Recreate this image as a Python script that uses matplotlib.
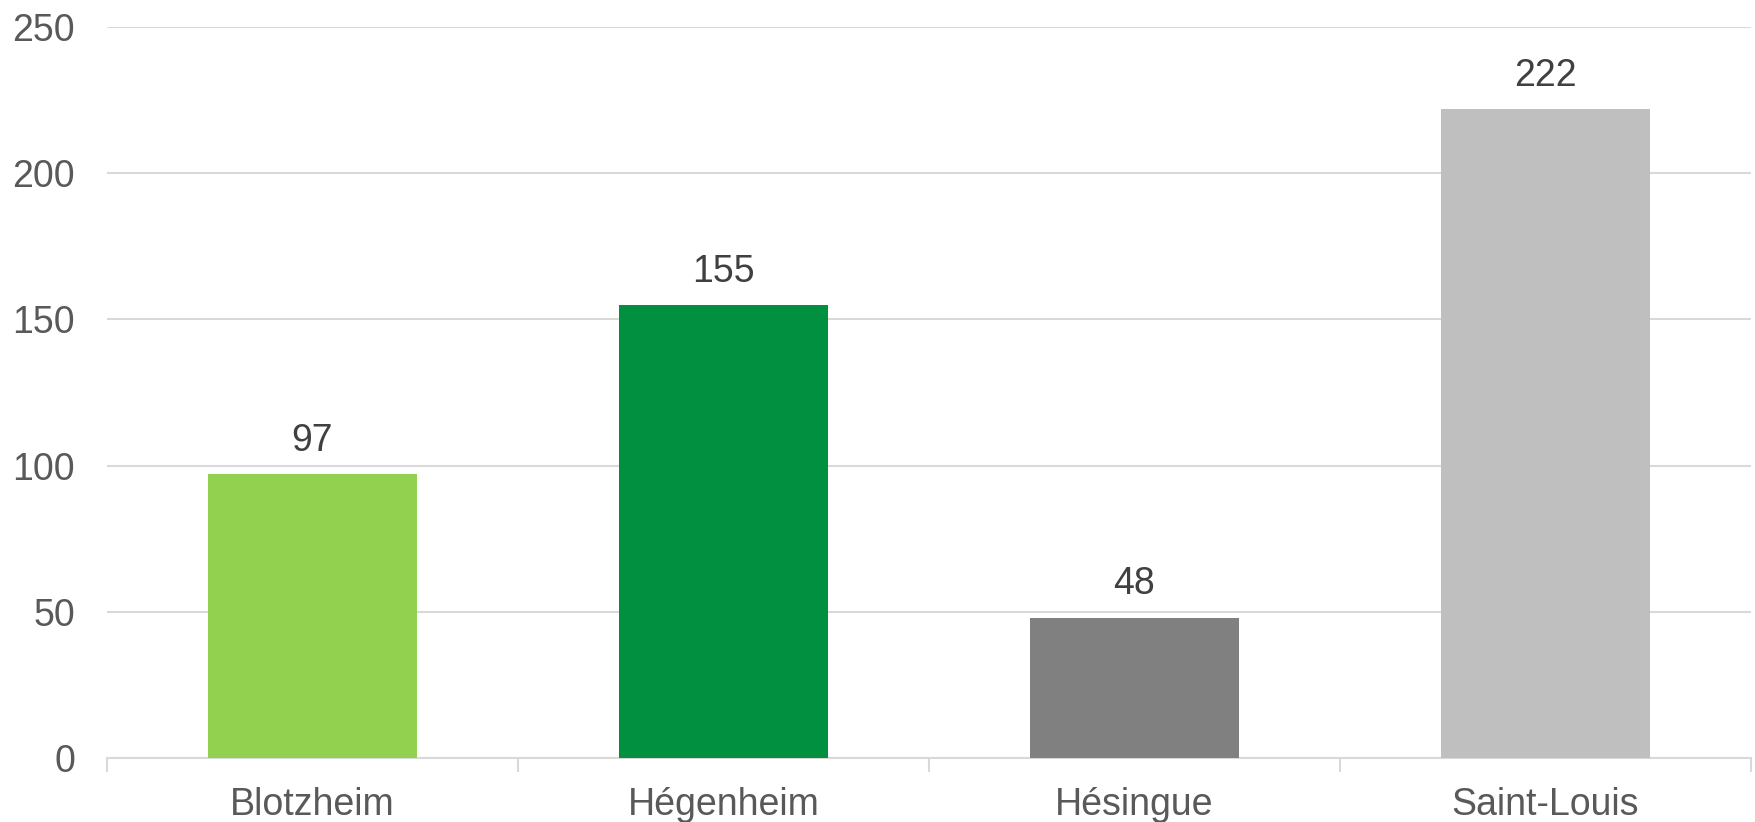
import matplotlib.pyplot as plt
from matplotlib.ticker import FixedLocator

plt.rcParams['font.family'] = ['Liberation Sans', 'DejaVu Sans']

communes = ["Blotzheim", "Hégenheim", "Hésingue", "Saint-Louis"]
valeurs = [97, 155, 48, 222]
couleurs = ["#92D050", "#00903F", "#808080", "#BFBFBF"]
yticks = [0, 50, 100, 150, 200, 250]

fig = plt.figure(figsize=(17.56, 8.22), dpi=100)
ax = fig.add_axes([107 / 1756, 1 - 758 / 822, (1751 - 107) / 1756, (758 - 27) / 822])

x = list(range(len(communes)))
bars = ax.bar(x, valeurs, width=0.51, color=couleurs, zorder=3)

for b, v in zip(bars, valeurs):
    ax.annotate(str(v), (b.get_x() + b.get_width() / 2, v), xytext=(0, 11),
                textcoords="offset points", ha="center", va="bottom",
                fontsize=27, color="#404040")

ax.set_xlim(-0.5, len(communes) - 0.5)
ax.set_ylim(0, 250)
ax.set_yticks(yticks)
ax.yaxis.grid(True, color="#D9D9D9", linewidth=1.5, zorder=0)
ax.tick_params(axis="y", length=0, pad=23, labelsize=27, labelcolor="#595959")

# category labels in the middle, tick marks on the boundaries
ax.set_xticks(x)
ax.set_xticklabels(communes)
ax.tick_params(axis="x", which="major", length=0, pad=21, labelsize=27,
               labelcolor="#595959")
ax.xaxis.set_minor_locator(FixedLocator([i - 0.5 for i in range(len(communes) + 1)]))
ax.tick_params(axis="x", which="minor", length=10, width=1.5, color="#D9D9D9")

for s in ["top", "right", "left"]:
    ax.spines[s].set_visible(False)
ax.spines["bottom"].set_color("#D9D9D9")
ax.spines["bottom"].set_linewidth(1.5)

fig.savefig("out.png", dpi=100)
